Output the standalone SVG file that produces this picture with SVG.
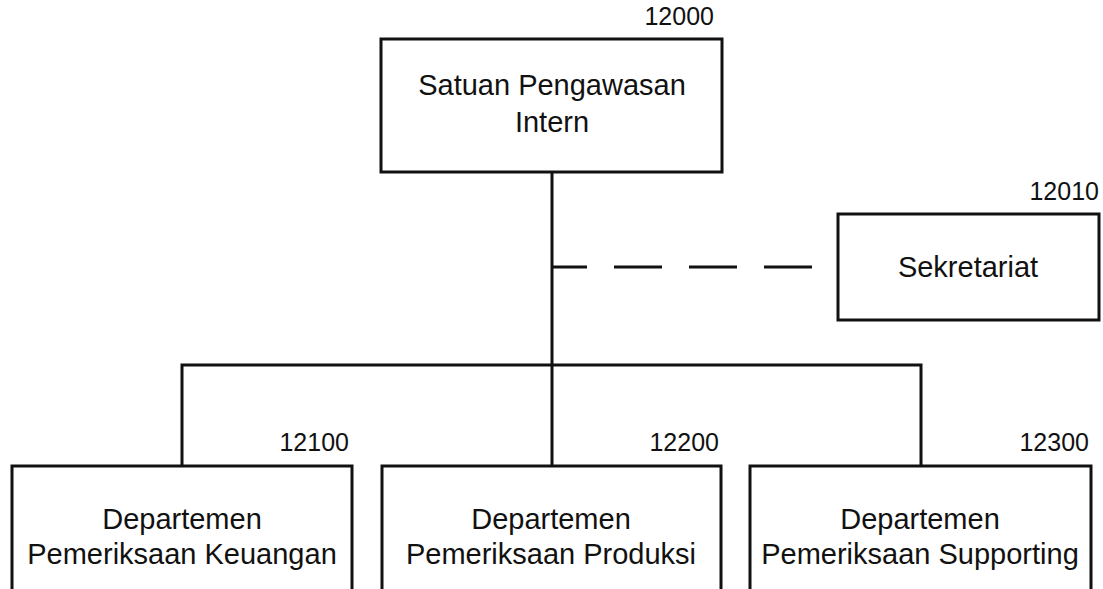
<svg xmlns="http://www.w3.org/2000/svg" width="1103" height="589" viewBox="0 0 1103 589">
<style>
.box{fill:#fff;stroke:#111;stroke-width:3}
.t{font-family:"Liberation Sans",Arial,sans-serif;font-size:29px;fill:#111;text-anchor:middle}
.n{font-family:"Liberation Sans",Arial,sans-serif;font-size:25px;fill:#111;text-anchor:end}
.ln{stroke:#111;stroke-width:3;fill:none}
</style>
<rect width="1103" height="589" fill="#fff"/>
<g id="connectors">
<path class="ln" d="M552,172 V466 M182,466 V365 H921 V466"/>
<line class="ln" x1="552" y1="267" x2="816" y2="267" stroke-dasharray="48 27" stroke-dashoffset="13"/>
</g>
<g id="n12000">
<rect class="box" x="381" y="39" width="341" height="133"/>
<text class="n" x="714" y="25">12000</text>
<text class="t" x="552" y="95">Satuan Pengawasan</text>
<text class="t" x="552" y="132">Intern</text>
</g>
<g id="n12010">
<rect class="box" x="838" y="214" width="261" height="106"/>
<text class="n" x="1099" y="200">12010</text>
<text class="t" x="968" y="277">Sekretariat</text>
</g>
<g id="n12100">
<rect class="box" x="12" y="466" width="340" height="140"/>
<text class="n" x="349" y="451">12100</text>
<text class="t" x="182" y="529">Departemen</text>
<text class="t" x="182" y="564">Pemeriksaan Keuangan</text>
</g>
<g id="n12200">
<rect class="box" x="382" y="466" width="339" height="140"/>
<text class="n" x="719" y="451">12200</text>
<text class="t" x="551" y="529">Departemen</text>
<text class="t" x="551" y="564">Pemeriksaan Produksi</text>
</g>
<g id="n12300">
<rect class="box" x="750" y="466" width="341" height="140"/>
<text class="n" x="1089" y="451">12300</text>
<text class="t" x="920" y="529">Departemen</text>
<text class="t" x="920" y="564">Pemeriksaan Supporting</text>
</g>
</svg>
